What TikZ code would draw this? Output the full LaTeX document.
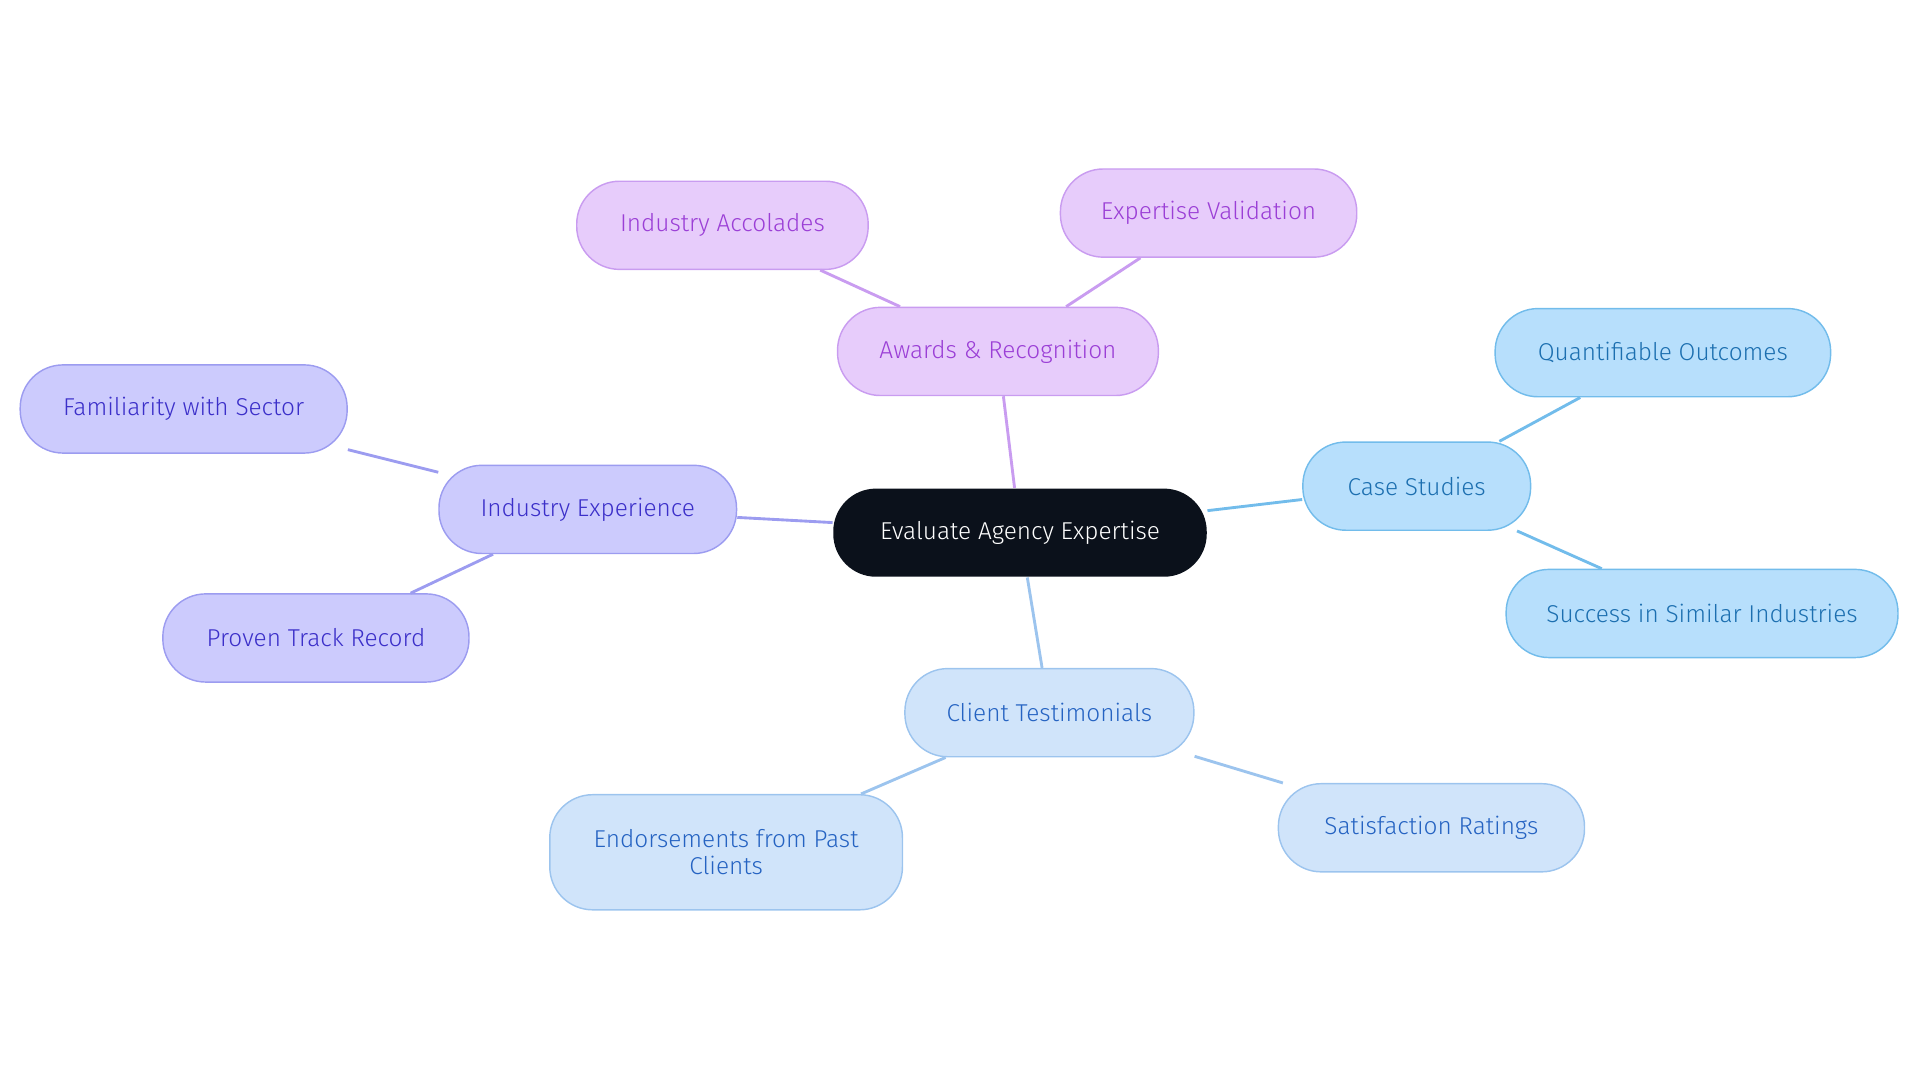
\documentclass[tikz,border=0pt]{standalone}
\usepackage{fontspec}
\setmainfont{Fira Sans Light}
\definecolor{rootfill}{HTML}{0B111B}
\definecolor{awfill}{HTML}{E7CCFB}\definecolor{awline}{HTML}{C99CF0}\definecolor{awtext}{HTML}{9B3FD6}
\definecolor{iefill}{HTML}{CCCBFD}\definecolor{ieline}{HTML}{9C9CF0}\definecolor{ietext}{HTML}{3B2FC9}
\definecolor{csfill}{HTML}{B7DFFC}\definecolor{csline}{HTML}{72BCEB}\definecolor{cstext}{HTML}{1C6FB0}
\definecolor{ctfill}{HTML}{D0E4FA}\definecolor{ctline}{HTML}{9CC4EE}\definecolor{cttext}{HTML}{2563C2}
\tikzset{
  box/.style={rounded corners=1.05cm, minimum height=2.16cm, align=center,
    font=\fontsize{17}{19}\selectfont, line width=1pt, inner xsep=0pt},
  root/.style={box, fill=rootfill, text=white},
  aw/.style={box, fill=awfill, draw=awline, text=awtext},
  ie/.style={box, fill=iefill, draw=ieline, text=ietext},
  cs/.style={box, fill=csfill, draw=csline, text=cstext},
  ct/.style={box, fill=ctfill, draw=ctline, text=cttext},
  link/.style={line width=2pt}
}
\begin{document}
\begin{tikzpicture}[x=0.03cm, y=-0.03cm]
\useasboundingbox (0,0) rectangle (1568,884);

% nodes
\node[root, minimum width=9.15cm] (root) at (833,435) {Evaluate Agency Expertise};
\node[aw, minimum width=7.86cm] (awards) at (815,287) {Awards \& Recognition};
\node[aw, minimum width=7.14cm] (accolades) at (590,184) {Industry Accolades};
\node[aw, minimum width=7.26cm] (validation) at (987,174) {Expertise Validation};
\node[ie, minimum width=7.29cm] (industry) at (480,416) {Industry Experience};
\node[ie, minimum width=8.01cm] (familiar) at (150,334) {Familiarity with Sector};
\node[ie, minimum width=7.50cm] (proven) at (258,521) {Proven Track Record};
\node[cs, minimum width=5.58cm] (cases) at (1157,397) {Case Studies};
\node[cs, minimum width=8.22cm] (outcomes) at (1358,288) {Quantifiable Outcomes};
\node[cs, minimum width=9.60cm] (success) at (1390,501) {Success in Similar Industries};
\node[ct, minimum width=7.08cm] (clients) at (857,582) {Client Testimonials};
\node[ct, minimum width=8.64cm, minimum height=2.82cm] (endorse) at (593,696) {Endorsements from Past\\Clients};
\node[ct, minimum width=7.50cm] (ratings) at (1169,676) {Satisfaction Ratings};

% links
\draw[link, awline] (root) -- (awards);
\draw[link, awline] (awards) -- (accolades);
\draw[link, awline] (awards) -- (validation);
\draw[link, ieline] (root) -- (industry);
\draw[link, ieline] (industry) -- (familiar);
\draw[link, ieline] (industry) -- (proven);
\draw[link, csline] (root) -- (cases);
\draw[link, csline] (cases) -- (outcomes);
\draw[link, csline] (cases) -- (success);
\draw[link, ctline] (root) -- (clients);
\draw[link, ctline] (clients) -- (endorse);
\draw[link, ctline] (clients) -- (ratings);
\end{tikzpicture}
\end{document}
